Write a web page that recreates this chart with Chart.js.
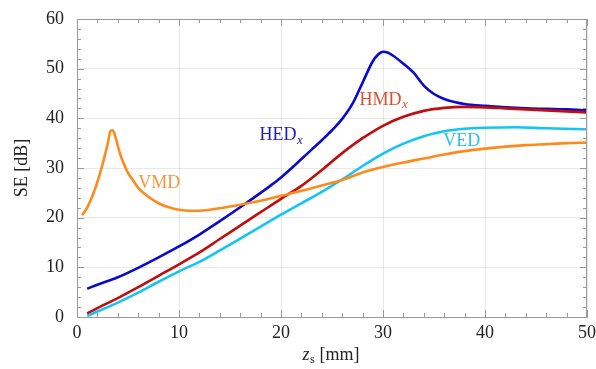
<!DOCTYPE html>
<html>
<head>
<meta charset="utf-8">
<script src="https://cdn.jsdelivr.net/npm/chart.js@4"></script>
<style>
  html, body { margin: 0; padding: 0; background: #fff; }
  canvas { display: block; }
</style>
</head>
<body>
<canvas id="seChart" width="596" height="369"></canvas>
<script>
// shielding effectiveness vs. source distance z_s
const zHED = [1, 2, 4, 6, 8, 10, 12, 14, 16, 18, 19, 20, 21, 22, 23, 24, 25, 26, 27, 28, 29, 29.5, 30, 30.5, 31, 32, 33, 34, 35, 36, 37, 38, 40, 42, 44, 46, 48, 50];
const seHED = [5.7, 6.5, 8.0, 9.9, 12.0, 14.2, 16.6, 19.3, 22.1, 25.0, 26.5, 28.1, 29.9, 31.8, 33.7, 35.6, 37.6, 39.9, 42.9, 47.2, 51.5, 52.8, 53.4, 53.2, 52.6, 51.0, 49.2, 46.6, 44.9, 43.9, 43.3, 42.9, 42.5, 42.2, 42.0, 41.9, 41.8, 41.6];

const zHMD = [1, 2, 4, 6, 8, 10, 12, 14, 16, 18, 20, 22, 24, 26, 28, 30, 32, 34, 36, 38, 40, 42, 44, 46, 48, 50];
const seHMD = [0.7, 1.8, 3.8, 6.0, 8.3, 10.6, 13.0, 15.7, 18.4, 21.1, 23.8, 26.4, 29.6, 33.0, 36.0, 38.5, 40.3, 41.5, 42.1, 42.3, 42.2, 42.0, 41.8, 41.6, 41.4, 41.2];

const zVED = [1, 2, 4, 6, 8, 10, 12, 14, 16, 18, 20, 22, 24, 26, 28, 30, 32, 34, 36, 38, 40, 43, 46, 50];
const seVED = [0.2, 1.1, 2.9, 4.9, 7.1, 9.2, 11.1, 13.4, 15.8, 18.2, 20.6, 22.9, 25.2, 27.7, 30.4, 32.9, 34.9, 36.4, 37.4, 37.9, 38.1, 38.2, 38.0, 37.8];

const zVMD = [0.5, 1, 1.5, 2, 2.5, 3, 3.3, 3.5, 3.8, 4.2, 4.6, 5, 5.5, 6, 7, 8, 9, 10, 11, 12, 14, 16, 18, 20, 22, 24, 26, 28, 30, 32, 34, 36, 38, 40, 42, 44, 46, 48, 50];
const seVMD = [20.5, 22.0, 24.3, 27.2, 30.7, 34.8, 37.5, 37.6, 36.0, 33.0, 30.8, 29.0, 27.5, 26.0, 24.2, 22.9, 22.1, 21.6, 21.4, 21.4, 21.9, 22.6, 23.4, 24.4, 25.4, 26.5, 27.6, 29.1, 30.2, 31.1, 31.9, 32.7, 33.4, 33.9, 34.3, 34.6, 34.8, 35.0, 35.1];

const xTicks = [0, 10, 20, 30, 40, 50];
const yTicks = [0, 10, 20, 30, 40, 50, 60];

const serif = '"Liberation Serif", "DejaVu Serif", serif';

const pts = (xs, ys) => xs.map((v, i) => ({ x: v, y: ys[i] }));

const line = (label, xs, ys, color) => ({
  label,
  data: pts(xs, ys),
  borderColor: color,
  borderWidth: 2.6,
  pointRadius: 0,
  fill: false,
  cubicInterpolationMode: 'monotone'
});

// text with a small italic subscript
function subText(ctx, main, sub, x, y, size) {
  ctx.font = size + 'px ' + serif;
  ctx.fillText(main, x, y);
  const w = ctx.measureText(main).width;
  ctx.font = 'italic ' + Math.round(size * 0.7) + 'px ' + serif;
  ctx.fillText(sub, x + w + 0.5, y + size * 0.28);
}

const decor = {
  id: 'decor',
  afterDraw(chart) {
    const { ctx, chartArea: a, scales: { x, y } } = chart;
    ctx.save();
    ctx.strokeStyle = '#9a9a9a';
    ctx.lineWidth = 1;
    ctx.beginPath();
    ctx.moveTo(a.left, a.top + 0.5);
    ctx.lineTo(a.right, a.top + 0.5);
    ctx.moveTo(a.right - 0.5, a.top);
    ctx.lineTo(a.right - 0.5, a.bottom);
    // inward ticks, minor every 2
    for (let v = 0; v <= 50; v += 2) {
      const px = Math.round(x.getPixelForValue(v)) + 0.5;
      const len = v % 10 === 0 ? 7 : 4;
      ctx.moveTo(px, a.bottom); ctx.lineTo(px, a.bottom - len);
      ctx.moveTo(px, a.top); ctx.lineTo(px, a.top + len);
    }
    for (let v = 0; v <= 60; v += 2) {
      const py = Math.round(y.getPixelForValue(v)) + 0.5;
      const len = v % 10 === 0 ? 7 : 4;
      ctx.moveTo(a.left, py); ctx.lineTo(a.left + len, py);
      ctx.moveTo(a.right, py); ctx.lineTo(a.right - len, py);
    }
    ctx.stroke();

    // curve labels
    ctx.textBaseline = 'middle';
    ctx.textAlign = 'left';
    ctx.fillStyle = '#1a1ad2';
    subText(ctx, 'HED', 'x', x.getPixelForValue(17.9), y.getPixelForValue(36.6), 18);
    ctx.fillStyle = '#d9502e';
    subText(ctx, 'HMD', 'x', x.getPixelForValue(27.7), y.getPixelForValue(43.7), 18);
    ctx.font = '18px ' + serif;
    ctx.fillStyle = '#25c3f2';
    ctx.fillText('VED', x.getPixelForValue(35.9), y.getPixelForValue(35.3));
    ctx.fillStyle = '#f7963a';
    ctx.fillText('VMD', x.getPixelForValue(6.0), y.getPixelForValue(26.9));

    // axis titles
    ctx.fillStyle = '#222';
    ctx.font = 'italic 18px ' + serif;
    const wz = ctx.measureText('z').width;
    ctx.font = '12px ' + serif;
    const ws = ctx.measureText('s').width;
    ctx.font = '18px ' + serif;
    const wr = ctx.measureText(' [mm]').width;
    const tx = 331 - (wz + ws + 1 + wr) / 2;
    const ty = 355;
    ctx.font = 'italic 18px ' + serif;
    ctx.fillText('z', tx, ty);
    ctx.font = '12px ' + serif;
    ctx.fillText('s', tx + wz + 0.5, ty + 5);
    ctx.font = '18px ' + serif;
    ctx.fillText(' [mm]', tx + wz + ws + 1, ty);

    ctx.translate(22, 168);
    ctx.rotate(-Math.PI / 2);
    ctx.textAlign = 'center';
    ctx.fillText('SE [dB]', 0, 0);
    ctx.restore();
  }
};

new Chart(document.getElementById('seChart'), {
  type: 'line',
  data: {
    datasets: [
      line('VMD', zVMD, seVMD, '#ff8a1c'),
      line('VED', zVED, seVED, '#14c4f5'),
      line('HMD', zHMD, seHMD, '#c00d0d'),
      line('HED', zHED, seHED, '#0a0acc')
    ]
  },
  options: {
    responsive: false,
    animation: false,
    devicePixelRatio: 1,
    layout: { padding: { top: 19, right: 9, left: 0, bottom: 0 } },
    plugins: { legend: { display: false }, tooltip: { enabled: false } },
    scales: {
      x: {
        type: 'linear',
        min: 0,
        max: 50,
        afterFit: s => { s.height = 52; s.paddingLeft = 0; s.paddingRight = 0; },
        afterBuildTicks: s => { s.ticks = xTicks.map(v => ({ value: v })); },
        ticks: { color: '#222', font: { family: serif, size: 18 }, padding: 5, maxRotation: 0 },
        grid: { color: 'rgba(0,0,0,0.09)', drawTicks: false },
        border: { color: '#9a9a9a' }
      },
      y: {
        min: 0,
        max: 60,
        afterFit: s => { s.width = 77; s.paddingTop = 0; s.paddingBottom = 0; },
        afterBuildTicks: s => { s.ticks = yTicks.map(v => ({ value: v })); },
        ticks: { color: '#222', font: { family: serif, size: 18 }, padding: 13 },
        grid: { color: 'rgba(0,0,0,0.09)', drawTicks: false },
        border: { color: '#9a9a9a' }
      }
    }
  },
  plugins: [decor]
});
</script>
</body>
</html>
